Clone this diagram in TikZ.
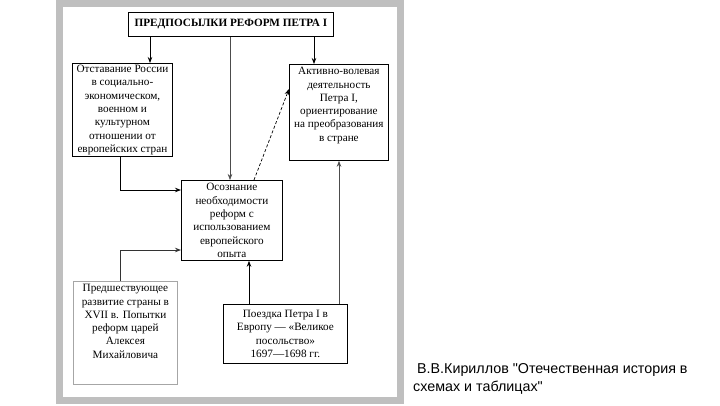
\documentclass[tikz,border=0pt]{standalone}
\usepackage{fontspec}
\setmainfont{Liberation Serif}
\newfontfamily\capfont{Liberation Sans}
\usetikzlibrary{arrows.meta}
\newcommand{\bxt}[3]{\begin{minipage}[t][#1pt][#2]{#3pt}\centering\fontsize{11.2}{13.3}\selectfont}
\newcommand{\bxe}{\end{minipage}}
\begin{document}
\begin{tikzpicture}[x=1pt,y=-1pt,
  bx/.style={draw=black,line width=0.8pt,inner sep=0pt,anchor=north west},
  arr/.style={line width=0.8pt,-{Stealth[length=6pt,width=4.5pt]}},
  dsh/.style={line width=0.7pt,dashed,dash pattern=on 3pt off 2pt,-{Stealth[length=6pt,width=4.5pt]}}]
\useasboundingbox (0,0) rectangle (720,405);
\fill[white] (0,0) rectangle (720,405);
% frame
\draw[line width=7pt,gray!50] (59.5,3.5) rectangle (400,400.5);
% boxes
\node[bx,minimum width=205pt,minimum height=24pt] (title) at (128,12) {};
\node[font=\fontsize{11.2}{12}\selectfont\bfseries] at (title.center) {ПРЕДПОСЫЛКИ РЕФОРМ ПЕТРА I};
\node[bx] (lbox) at (72,63) {\bxt{93}{c}{100}Отставание России\\ в социально-\\ экономическом,\\ военном и\\ культурном\\ отношении от\\ европейских стран\bxe};
\node[bx] (rbox) at (289,64) {\bxt{96}{t}{99}\vspace{3pt}Активно-волевая\\ деятельность\\ Петра I,\\ ориентирование\\ на преобразования\\ в стране\bxe};
\node[bx] (cbox) at (181,180) {\bxt{80}{c}{101}Осознание\\ необходимости\\ реформ с\\ использованием\\ европейского\\ опыта\bxe};
\node[bx,draw=gray!70] (blbox) at (73,281) {\bxt{103}{t}{104}\vspace{3pt}Предшествующее\\ развитие страны в\\ XVII в. Попытки\\ реформ царей\\ Алексея\\ Михайловича\bxe};
\node[bx] (pbox) at (223,304) {\bxt{59}{c}{124}Поездка Петра I в\\ Европу — «Великое\\ посольство»\\ 1697—1698 гг.\bxe};
% helper coordinates
\coordinate (k1) at (120,190);
\coordinate (k2) at (120,250);
\coordinate (k3) at (249,0);
\coordinate (k4) at (339,0);
\coordinate (k5) at (254,0);
\coordinate (k6) at (0,89);
\coordinate (k7) at (230,0);
\coordinate (k8) at (150,0);
\coordinate (k9) at (314,0);
% connectors
\draw[arr] (title.south -| k8) -- (lbox.north -| k8);
\draw[arr] (title.south -| k9) -- (rbox.north -| k9);
\draw[arr,line width=0.6pt,black!70] (title.south -| k7) -- (cbox.north -| k7);
\draw[arr] (lbox.south -| k1) |- (cbox.west |- k1);
\draw[arr,black!80] (blbox.north -| k2) |- (cbox.west |- k2);
\draw[arr] (pbox.north -| k3) -- (cbox.south -| k3);
\draw[arr,black!70] (pbox.north -| k4) -- (rbox.south -| k4);
\draw[dsh] (cbox.north -| k5) -- (rbox.west |- k6);
% caption
\node[anchor=north west,align=left,font=\capfont\fontsize{14.3}{18}\selectfont,inner sep=0pt] (cap) at (413,363) {\ В.В.Кириллов "Отечественная история в\\ схемах и таблицах"};
\end{tikzpicture}
\end{document}
